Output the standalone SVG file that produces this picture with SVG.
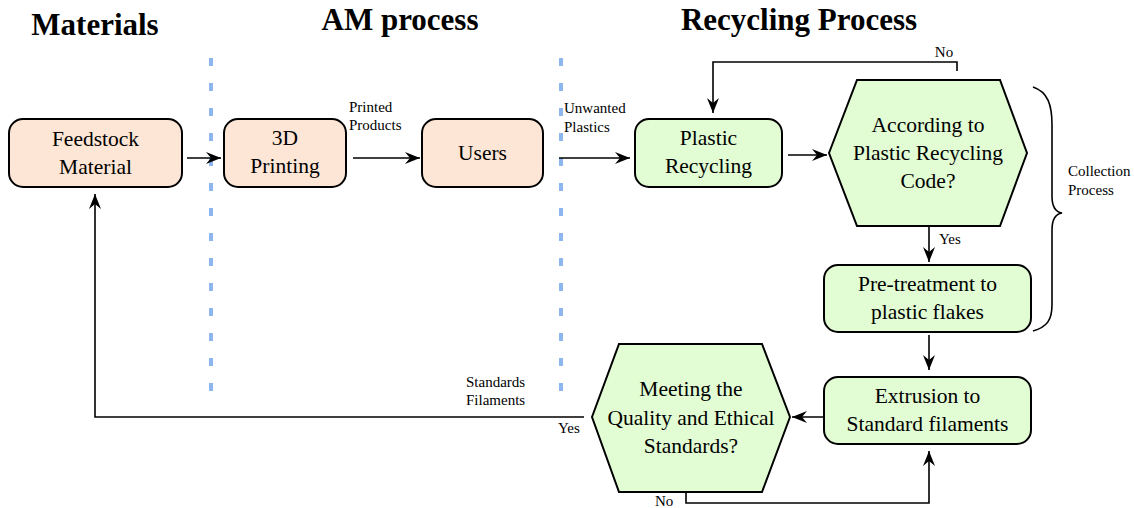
<svg xmlns="http://www.w3.org/2000/svg" width="1134" height="508" viewBox="0 0 1134 508" font-family="'Liberation Serif', 'DejaVu Serif', serif">
<style>
.title{font-family:'Liberation Serif','DejaVu Serif',serif;font-weight:bold;font-size:31px;fill:#000;text-anchor:middle}
.nt{font-family:'Liberation Serif','DejaVu Serif',serif;font-weight:normal;font-size:21.5px;fill:#000;text-anchor:middle}
.lb{font-family:'Liberation Serif','DejaVu Serif',serif;font-weight:normal;font-size:15px;fill:#000}
.peach{fill:#fee6d6;stroke:#000;stroke-width:2}
.green{fill:#e2fcd3;stroke:#000;stroke-width:2}
.conn{fill:none;stroke:#000;stroke-width:1.6}
.sep{stroke:#8db6ef;stroke-width:4;stroke-dasharray:8 17}
</style>
<defs>
<marker id="ah" viewBox="-16 -7 17 14" markerWidth="17" markerHeight="14" refX="0" refY="0" markerUnits="userSpaceOnUse" orient="auto">
<path d="M0,0 L-15,-6 L-10,0 L-15,6 Z" fill="#000"/>
</marker>
</defs>
<rect width="1134" height="508" fill="#fff"/>
<g id="titles">
<text class="title" x="95" y="35">Materials</text>
<text class="title" x="400" y="30">AM process</text>
<text class="title" x="799" y="30">Recycling Process</text>
</g>
<g id="separators">
<line class="sep" x1="211" y1="58" x2="211" y2="394"/>
<line class="sep" x1="561" y1="58" x2="561" y2="394"/>
</g>
<g id="connectors">
<line class="conn" x1="187" y1="158" x2="221" y2="158" marker-end="url(#ah)"/>
<line class="conn" x1="353" y1="158" x2="420" y2="158" marker-end="url(#ah)"/>
<line class="conn" x1="559" y1="158" x2="630" y2="158" marker-end="url(#ah)"/>
<line class="conn" x1="788" y1="155" x2="827" y2="155" marker-end="url(#ah)"/>
<line class="conn" x1="929" y1="226" x2="929" y2="262" marker-end="url(#ah)"/>
<line class="conn" x1="929" y1="335" x2="929" y2="370" marker-end="url(#ah)"/>
<line class="conn" x1="825" y1="417" x2="792" y2="417" marker-end="url(#ah)"/>
<polyline class="conn" points="686,492 686,503 929,503 929,451" marker-end="url(#ah)"/>
<polyline class="conn" points="957,71 957,62 713,62 713,113" marker-end="url(#ah)"/>
<polyline class="conn" points="584,417 95,417 95,194" marker-end="url(#ah)"/>
<path class="conn" d="M1033,87 C1048,92 1052,105 1052,125 L1052,196 C1052,206 1055,212 1062,213 C1055,214 1052,220 1052,230 L1052,305 C1052,320 1047,327 1033,331"/>
</g>
<g id="labels">
<text class="lb" x="349" y="112">Printed</text>
<text class="lb" x="349" y="130">Products</text>
<text class="lb" x="564" y="113">Unwanted</text>
<text class="lb" x="564" y="132">Plastics</text>
<text class="lb" x="944" y="57" text-anchor="middle">No</text>
<text class="lb" x="939" y="244">Yes</text>
<text class="lb" x="1068" y="176">Collection</text>
<text class="lb" x="1068" y="195">Process</text>
<text class="lb" x="466" y="387">Standards</text>
<text class="lb" x="466" y="405">Filaments</text>
<text class="lb" x="558" y="433">Yes</text>
<text class="lb" x="655" y="506" font-size="14">No</text>
</g>
<g id="feedstock">
<rect class="peach" x="9" y="119" width="173" height="68" rx="14"/>
<text class="nt" x="95.5" y="146">Feedstock</text>
<text class="nt" x="95.5" y="174">Material</text>
</g>
<g id="printing">
<rect class="peach" x="224" y="119" width="122" height="68" rx="14"/>
<text class="nt" x="285" y="145">3D</text>
<text class="nt" x="285" y="173">Printing</text>
</g>
<g id="users">
<rect class="peach" x="422" y="119" width="121" height="68" rx="14"/>
<text class="nt" x="482.5" y="160">Users</text>
</g>
<g id="plastic-recycling">
<rect class="green" x="635" y="119" width="147" height="68" rx="14"/>
<text class="nt" x="708.5" y="145">Plastic</text>
<text class="nt" x="708.5" y="173">Recycling</text>
</g>
<g id="code-decision">
<polygon class="green" points="829,153 857,80 1000,80 1027,153 1000,226 857,226"/>
<text class="nt" x="928" y="132">According to</text>
<text class="nt" x="928" y="160">Plastic Recycling</text>
<text class="nt" x="928" y="188">Code?</text>
</g>
<g id="pretreatment">
<rect class="green" x="824" y="265" width="207" height="67" rx="14"/>
<text class="nt" x="927.5" y="291">Pre-treatment to</text>
<text class="nt" x="927.5" y="319">plastic flakes</text>
</g>
<g id="extrusion">
<rect class="green" x="824" y="377" width="207" height="67" rx="14"/>
<text class="nt" x="927.5" y="403">Extrusion to</text>
<text class="nt" x="927.5" y="431">Standard filaments</text>
</g>
<g id="quality-decision">
<polygon class="green" points="592,417 619,344 762,344 790,417 762,492 619,492"/>
<text class="nt" x="691" y="396">Meeting the</text>
<text class="nt" x="691" y="425">Quality and Ethical</text>
<text class="nt" x="691" y="453">Standards?</text>
</g>
</svg>
